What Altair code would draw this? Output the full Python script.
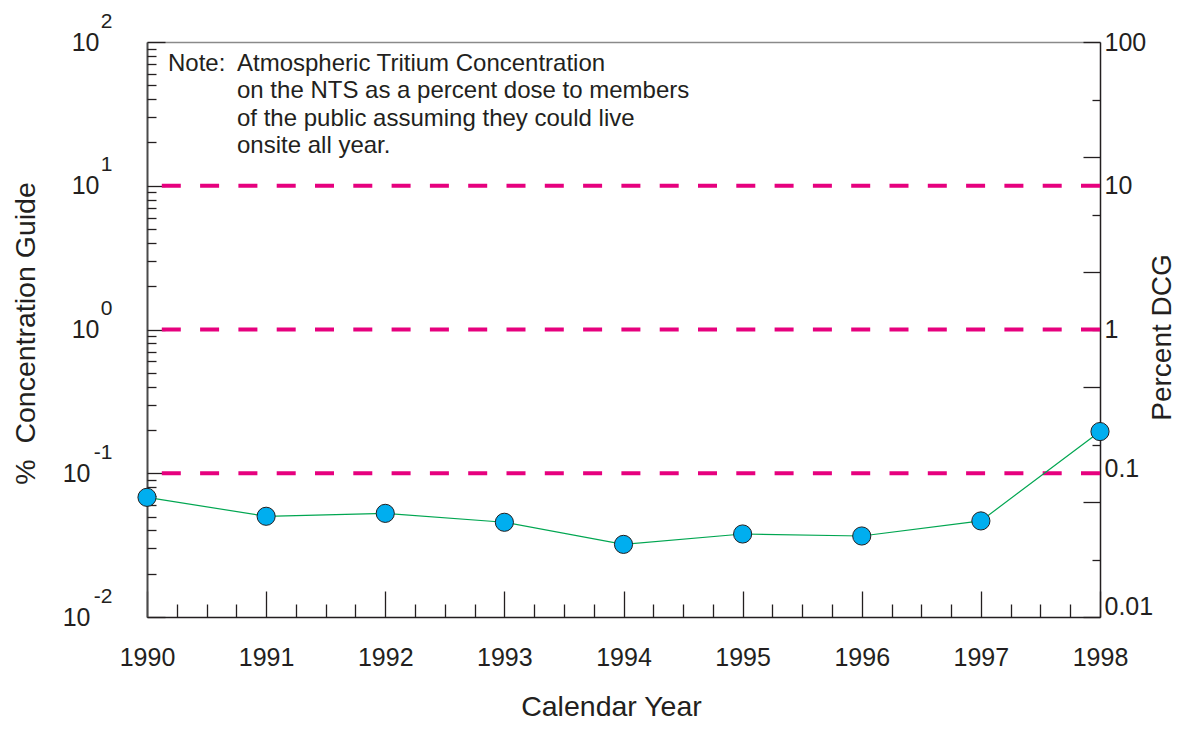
import altair as alt
import pandas as pd

# ---------------- data ----------------
years = [1990, 1991, 1992, 1993, 1994, 1995, 1996, 1997, 1998]
pct_conc = [0.068, 0.0502, 0.0526, 0.0456, 0.0320, 0.0378, 0.0366, 0.0466, 0.195]
guide_levels = [0.1, 1, 10]
decades = [0.01, 0.1, 1, 10, 100]
year_minor_ticks = [1990 + q / 4 for q in range(33)]
left_tick_values = [m * 10.0 ** e for e in range(-2, 2) for m in range(1, 10)] + [100]
right_tick_values = [10 ** (-2 + 0.4 * k) for k in range(11)]
note_prefix = "Note:"
note_lines = [
    "Atmospheric Tritium Concentration",
    "on the NTS as a percent dose to members",
    "of the public assuming they could live",
    "onsite all year.",
]
left_title = "%\u00a0 Concentration Guide"
right_title = "Percent DCG"
x_title = "Calendar Year"

# ---------------- style ----------------
W, H = 953, 575
INK = "#231F20"
MAGENTA = "#E6007E"
GREEN = "#00A651"
CYAN = "#00AEEF"
FONT = "Liberation Sans"
TITLE_SIZE = 28.5

xscale = alt.Scale(domain=[1990, 1998], nice=False, zero=False)
yscale = alt.Scale(type="log", domain=[0.01, 100], nice=False)

DECADE_TEST = "abs(log(datum.value)/LN10 - round(log(datum.value)/LN10)) < 0.01"

x_bottom = alt.Axis(orient="bottom", values=years, format="d", labelFontSize=25,
                    labelColor=INK, labelPadding=40, labelBaseline="middle",
                    labelFlush=False, labelOverlap=False, ticks=False, tickSize=0,
                    domain=True, domainColor=INK, domainWidth=1.5, grid=False,
                    title=x_title, titleFontSize=TITLE_SIZE, titleFontWeight="normal",
                    titleColor=INK, titleX=464, titleY=98, titleBaseline="alphabetic",
                    titleAlign="center")
x_ticks_in = alt.Axis(orient="top", offset=-H, values=year_minor_ticks, labels=False,
                      domain=False, ticks=True, tickColor=INK, tickWidth=1.3,
                      tickSize={"condition": {"test": "abs(datum.value - round(datum.value)) < 0.01", "value": 26}, "value": 13},
                      grid=False, title=None)
x_top_border = alt.Axis(orient="top", domain=True, domainColor="#8A8A8A", domainWidth=1.5,
                        ticks=False, labels=False, grid=False, title=None)

y_left_main = alt.Axis(orient="left", values=decades, labelExpr="'10'", labelFontSize=25,
                       labelColor=INK, labelAlign="right", labelBaseline="middle",
                       labelPadding={"condition": {"test": "datum.value < 0.5", "value": 57}, "value": 48},
                       labelOverlap=False, labelFlush=False, ticks=False, tickSize=0,
                       domain=True, domainColor="#4A4A4A", domainWidth=2, grid=False,
                       title=left_title, titleFontSize=TITLE_SIZE, titleFontWeight="normal",
                       titleColor=INK, titleX=-122, titleY=291, titleAngle=270,
                       titleBaseline="middle", titleAlign="center")
y_left_exp = alt.Axis(orient="left", values=decades,
                      labelExpr="'' + round(log(datum.value)/LN10)", labelFontSize=21,
                      labelColor=INK, labelAlign="right", labelBaseline="middle",
                      labelOffset=-21, labelPadding=35, labelOverlap=False, labelFlush=False,
                      ticks=False, tickSize=0, domain=False, grid=False, title=None)
y_left_ticks = alt.Axis(orient="right", offset=-W, values=left_tick_values, labels=False,
                        domain=False, ticks=True, tickColor=INK, tickWidth=1.3,
                        tickSize={"condition": {"test": DECADE_TEST, "value": 18}, "value": 9},
                        grid=False, title=None)
y_right_main = alt.Axis(orient="right", values=decades, format="~g", labelFontSize=25,
                        labelColor=INK, labelAlign="left", labelBaseline="middle",
                        labelPadding=4, labelOverlap=False, labelFlush=False,
                        labelOffset={"condition": [{"test": "datum.value < 0.05", "value": -11},
                                                   {"test": "datum.value < 0.5", "value": -5}],
                                     "value": 0},
                        ticks=False, tickSize=0, domain=True, domainColor=INK, domainWidth=1.5,
                        grid=False, title=right_title, titleFontSize=28,
                        titleFontWeight="normal", titleColor=INK, titleX=62, titleY=295,
                        titleAngle=270, titleBaseline="middle", titleAlign="center")
y_right_ticks = alt.Axis(orient="left", offset=-W, values=right_tick_values, labels=False,
                         domain=False, ticks=True, tickColor=INK, tickWidth=1.3,
                         tickSize={"condition": {"test": "round((log(datum.value)/LN10 + 2)/0.4) % 2 == 0", "value": 17}, "value": 8},
                         grid=False, title=None)

df = pd.DataFrame({"year": years, "pct": pct_conc})
df_levels = pd.DataFrame({"level": guide_levels})

rules = alt.Chart(df_levels).mark_rule(color=MAGENTA, strokeWidth=4, strokeDash=[19, 19.3]).encode(
    y=alt.Y("level:Q", scale=yscale, axis=y_left_main)
)
line = alt.Chart(df).mark_line(color=GREEN, strokeWidth=1.2).encode(
    x=alt.X("year:Q", scale=xscale, axis=x_bottom),
    y=alt.Y("pct:Q", scale=yscale, axis=y_left_exp),
)
ghost1 = alt.Chart(df).mark_point(opacity=0).encode(
    x=alt.X("year:Q", scale=xscale, axis=x_ticks_in),
    y=alt.Y("pct:Q", scale=yscale, axis=y_left_ticks),
)
ghost2 = alt.Chart(df).mark_point(opacity=0).encode(
    x=alt.X("year:Q", scale=xscale, axis=x_top_border),
    y=alt.Y("pct:Q", scale=yscale, axis=y_right_main),
)
ghost3 = alt.Chart(df).mark_point(opacity=0).encode(
    x=alt.X("year:Q", scale=xscale, axis=None),
    y=alt.Y("pct:Q", scale=yscale, axis=y_right_ticks),
)
points = alt.Chart(df).mark_circle(size=330, color=CYAN, opacity=1, stroke=INK, strokeWidth=1).encode(
    x=alt.X("year:Q", scale=xscale, axis=None),
    y=alt.Y("pct:Q", scale=yscale, axis=None),
)
note_df = pd.DataFrame({"k": [0]})
note1 = alt.Chart(note_df).mark_text(text=note_prefix, fontSize=24, color=INK, align="left",
                                     baseline="alphabetic").encode(
    x=alt.value(21), y=alt.value(29))
note2 = alt.Chart(note_df).mark_text(text=note_lines, fontSize=24, color=INK, align="left",
                                     baseline="alphabetic", lineHeight=27.3).encode(
    x=alt.value(90), y=alt.value(29))

chart = alt.layer(rules, line, ghost1, ghost2, ghost3, points, note1, note2).resolve_axis(
    x="independent", y="independent"
).properties(
    width=W, height=H,
    autosize=alt.AutoSizeParams(type="none"),
    padding={"left": 139, "top": 34, "right": 76, "bottom": 105},
).configure(font=FONT).configure_view(stroke=None)

chart.save("out.html", embed_options={"renderer": "svg", "actions": False})
